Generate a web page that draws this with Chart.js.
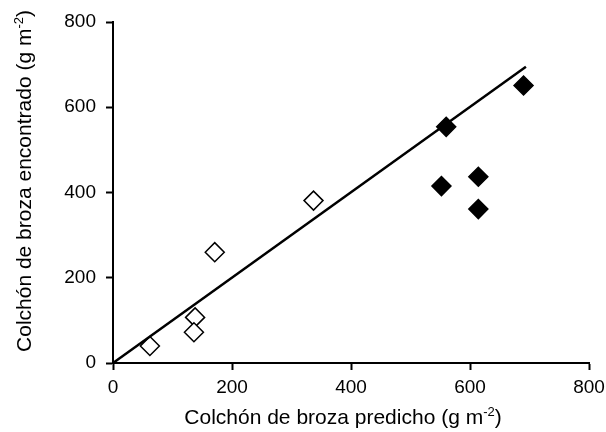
<!DOCTYPE html>
<html>
<head>
<meta charset="utf-8">
<script src="https://cdn.jsdelivr.net/npm/chart.js@4"></script>
<style>
  html, body { margin: 0; padding: 0; background: #fff; }
</style>
</head>
<body>
<canvas id="chart" width="606" height="432"></canvas>
<script>
// open diamonds
const openX = [62, 138, 136, 171, 337];
const openY = [40, 107, 72, 260, 381];
// filled diamonds
const filledX = [560, 552, 614, 614, 690];
const filledY = [554, 415, 437, 361, 651];
// 1:1 line
const lineX = [0, 694];
const lineY = [0, 695];

const axisTicks = [0, 200, 400, 600, 800];
const xTitle = ['Colchón de broza predicho (g m', '-2', ')'];
const yTitle = ['Colchón de broza encontrado (g m', '-2', ')'];

const FONT = 'Liberation Sans, Arial, sans-serif';

function toPoints(xs, ys) {
    return xs.map((x, i) => ({ x: x, y: ys[i] }));
}

// draws a title with a small raised "-2"
function drawSupTitle(ctx, parts, size) {
    ctx.font = size + 'px ' + FONT;
    const w0 = ctx.measureText(parts[0]).width;
    const w2 = ctx.measureText(parts[2]).width;
    ctx.font = Math.round(size * 0.62) + 'px ' + FONT;
    const w1 = ctx.measureText(parts[1]).width;
    const total = w0 + w1 + w2;
    let x = -total / 2;
    ctx.textBaseline = 'alphabetic';
    ctx.textAlign = 'left';
    ctx.font = size + 'px ' + FONT;
    ctx.fillText(parts[0], x, 0);
    x += w0;
    ctx.font = Math.round(size * 0.62) + 'px ' + FONT;
    ctx.fillText(parts[1], x, -size * 0.38);
    x += w1;
    ctx.font = size + 'px ' + FONT;
    ctx.fillText(parts[2], x, 0);
}

const titlesPlugin = {
    id: 'titles',
    afterDraw(chart) {
        const ctx = chart.ctx;
        ctx.save();
        ctx.fillStyle = '#000';
        ctx.translate(343, 424);
        drawSupTitle(ctx, xTitle, 21);
        ctx.restore();

        ctx.save();
        ctx.fillStyle = '#000';
        ctx.translate(31, 181);
        ctx.rotate(-Math.PI / 2);
        drawSupTitle(ctx, yTitle, 21);
        ctx.restore();
    }
};

const axisStyle = {
    type: 'linear',
    min: 0,
    max: 800,
    border: { display: true, color: '#000', width: 2 },
    grid: {
        drawOnChartArea: false,
        drawTicks: true,
        tickLength: 7,
        tickWidth: 2,
        tickColor: '#000'
    },
    afterBuildTicks: (scale) => {
        scale.ticks = axisTicks.map(v => ({ value: v }));
    },
    ticks: {
        color: '#000',
        font: { family: FONT, size: 19 },
        padding: 10
    }
};

new Chart(document.getElementById('chart'), {
    type: 'scatter',
    data: {
        datasets: [
            {
                type: 'line',
                data: toPoints(lineX, lineY),
                borderColor: '#000',
                borderWidth: 2.5,
                pointRadius: 0,
                fill: false
            },
            {
                data: toPoints(openX, openY),
                pointStyle: 'rectRot',
                pointRadius: 9.5,
                pointBackgroundColor: '#fff',
                pointBorderColor: '#000',
                pointBorderWidth: 1.5
            },
            {
                data: toPoints(filledX, filledY),
                pointStyle: 'rectRot',
                pointRadius: 9.5,
                pointBackgroundColor: '#000',
                pointBorderColor: '#000',
                pointBorderWidth: 1.5
            }
        ]
    },
    options: {
        responsive: false,
        animation: false,
        layout: { padding: { left: 0, right: 17, top: 22, bottom: 0 } },
        plugins: {
            legend: { display: false },
            tooltip: { enabled: false }
        },
        scales: {
            x: Object.assign({}, axisStyle, {
                position: 'bottom',
                ticks: Object.assign({}, axisStyle.ticks, { padding: 6 }),
                afterFit: (scale) => {
                    scale.height = 69;
                    scale.paddingLeft = 0;
                    scale.paddingRight = 0;
                }
            }),
            y: Object.assign({}, axisStyle, {
                position: 'left',
                afterFit: (scale) => {
                    scale.width = 113;
                    scale.paddingTop = 0;
                    scale.paddingBottom = 0;
                }
            })
        }
    },
    plugins: [titlesPlugin]
});
</script>
</body>
</html>
